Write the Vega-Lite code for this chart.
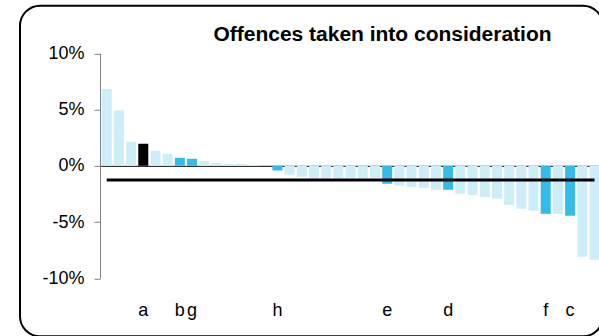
{
  "$schema": "https://vega.github.io/schema/vega-lite/v6.json",
  "width": 583,
  "height": 330.5,
  "autosize": "none",
  "padding": {"left": 20, "top": 5.8, "right": 0, "bottom": 0},
  "background": "white",
  "config": {
    "view": {"stroke": "#000000", "strokeWidth": 2, "cornerRadius": 20, "fill": "white"},
    "font": "Liberation Sans"
  },
  "title": {
    "text": "Offences taken into consideration",
    "font": "Liberation Sans",
    "fontSize": 21,
    "fontWeight": "bold",
    "color": "#000000",
    "anchor": "middle",
    "dx": 71,
    "offset": -56,
    "baseline": "alphabetic"
  },
  "data": {
    "values": [
      {"name": "n0", "value": 6.84, "kind": "light"},
      {"name": "n1", "value": 4.92, "kind": "light"},
      {"name": "n2", "value": 2.13, "kind": "light"},
      {"name": "a", "value": 1.96, "kind": "black"},
      {"name": "n4", "value": 1.33, "kind": "light"},
      {"name": "n5", "value": 1.07, "kind": "light"},
      {"name": "b", "value": 0.71, "kind": "blue"},
      {"name": "g", "value": 0.62, "kind": "blue"},
      {"name": "n8", "value": 0.44, "kind": "light"},
      {"name": "n9", "value": 0.27, "kind": "light"},
      {"name": "n10", "value": 0.18, "kind": "light"},
      {"name": "n11", "value": 0.18, "kind": "light"},
      {"name": "n12", "value": 0.09, "kind": "light"},
      {"name": "n13", "value": 0.0, "kind": "light"},
      {"name": "h", "value": -0.41, "kind": "blue"},
      {"name": "n15", "value": -0.8, "kind": "light"},
      {"name": "n16", "value": -0.98, "kind": "light"},
      {"name": "n17", "value": -1.07, "kind": "light"},
      {"name": "n18", "value": -1.07, "kind": "light"},
      {"name": "n19", "value": -1.07, "kind": "light"},
      {"name": "n20", "value": -1.07, "kind": "light"},
      {"name": "n21", "value": -1.07, "kind": "light"},
      {"name": "n22", "value": -1.07, "kind": "light"},
      {"name": "e", "value": -1.6, "kind": "blue"},
      {"name": "n24", "value": -1.78, "kind": "light"},
      {"name": "n25", "value": -1.87, "kind": "light"},
      {"name": "n26", "value": -1.96, "kind": "light"},
      {"name": "n27", "value": -2.13, "kind": "light"},
      {"name": "d", "value": -2.13, "kind": "blue"},
      {"name": "n29", "value": -2.49, "kind": "light"},
      {"name": "n30", "value": -2.58, "kind": "light"},
      {"name": "n31", "value": -2.76, "kind": "light"},
      {"name": "n32", "value": -2.93, "kind": "light"},
      {"name": "n33", "value": -3.47, "kind": "light"},
      {"name": "n34", "value": -3.82, "kind": "light"},
      {"name": "n35", "value": -4.0, "kind": "light"},
      {"name": "f", "value": -4.27, "kind": "blue"},
      {"name": "n37", "value": -4.27, "kind": "light"},
      {"name": "c", "value": -4.44, "kind": "blue"},
      {"name": "n39", "value": -8.09, "kind": "light"},
      {"name": "n40", "value": -8.36, "kind": "light"}
    ]
  },
  "encoding": {
    "x": {
      "field": "name",
      "type": "nominal",
      "sort": null,
      "scale": {"range": [80.6, 580.6], "paddingInner": 0.18, "paddingOuter": 0.09},
      "axis": {
        "title": null,
        "orient": "bottom",
        "offset": -170.5,
        "domain": true,
        "domainColor": "#000000",
        "domainWidth": 1,
        "ticks": false,
        "tickSize": 0,
        "grid": false,
        "labelPadding": 150,
        "labelBaseline": "alphabetic",
        "labelAngle": 0,
        "labelFont": "Liberation Sans",
        "labelFontSize": 18,
        "labelColor": "#000000",
        "labelOverlap": false,
        "labelExpr": "length(datum.value) == 1 ? datum.value : ''"
      }
    }
  },
  "layer": [
    {
      "mark": {"type": "bar"},
      "encoding": {
        "y": {
          "field": "value",
          "type": "quantitative",
          "scale": {"domain": [-10, 10], "range": [272.5, 47.5], "nice": false, "zero": false},
          "axis": {
            "title": null,
            "offset": -80,
            "values": [-10, -5, 0, 5, 10],
            "labelExpr": "datum.value + '%'",
            "domain": true,
            "domainColor": "#808080",
            "domainWidth": 1,
            "ticks": true,
            "tickColor": "#808080",
            "tickSize": 6,
            "labelPadding": 10,
            "labelFont": "Liberation Sans",
            "labelFontSize": 18,
            "labelColor": "#000000",
            "grid": false
          }
        },
        "color": {
          "field": "kind",
          "type": "nominal",
          "scale": {"domain": ["light", "blue", "black"], "range": ["#cdedf9", "#33bbe9", "#000000"]},
          "legend": null
        }
      }
    },
    {
      "mark": {"type": "line", "color": "#000000", "strokeWidth": 3},
      "encoding": {
        "y": {"datum": -1.27}
      }
    }
  ]
}
